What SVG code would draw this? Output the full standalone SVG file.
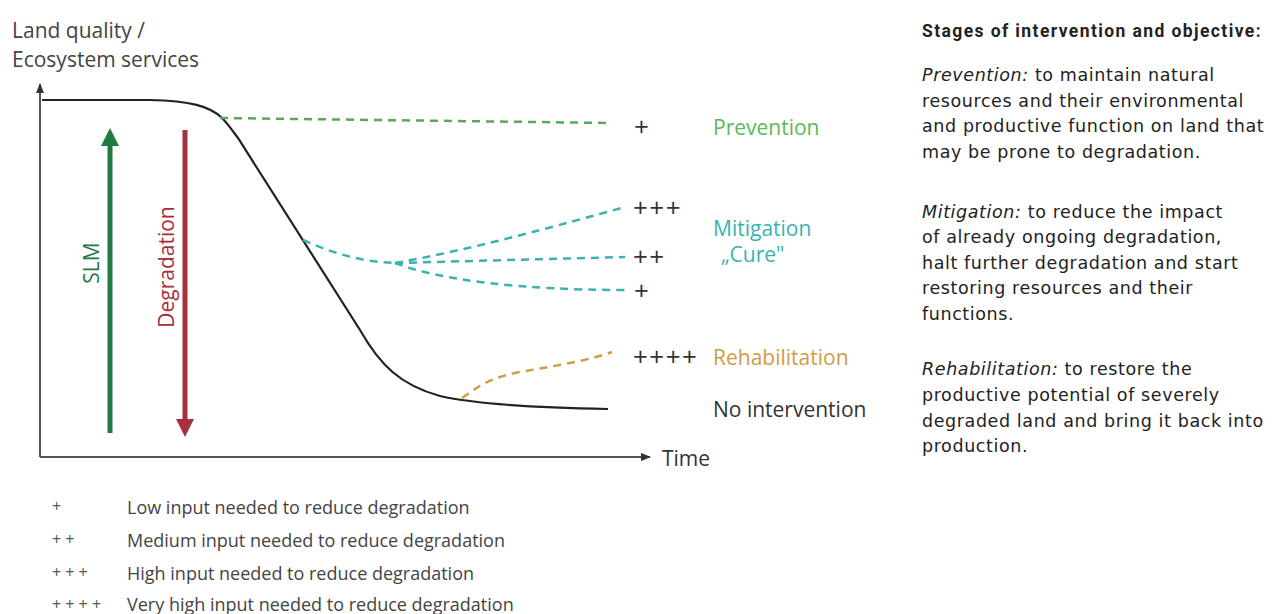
<svg xmlns="http://www.w3.org/2000/svg" width="1278" height="614" viewBox="0 0 1278 614">
<style>
.lbl{font-family:"Open Sans","Liberation Sans",sans-serif;font-size:21px;}
.leg{font-family:"Open Sans","Liberation Sans",sans-serif;font-size:18px;fill:#444;}
.legp{font-family:"Open Sans","Liberation Sans",sans-serif;font-size:16px;fill:#555;}
.side{font-family:"DejaVu Sans","Liberation Sans",sans-serif;font-size:17.5px;fill:#222;letter-spacing:0.6px;}
.head{font-family:"Roboto","Liberation Sans",sans-serif;font-size:17.5px;font-weight:bold;fill:#222;letter-spacing:1.4px;}
.dash{fill:none;stroke-width:2.5;stroke-dasharray:8 6;}
.plus{font-family:"Open Sans","Liberation Sans",sans-serif;font-size:26px;fill:#333;letter-spacing:1.5px;}
</style>
<defs>
<marker id="axh" markerWidth="10" markerHeight="8" refX="9" refY="4" orient="auto" markerUnits="userSpaceOnUse">
<path d="M0,0 L10,4 L0,8 Z" fill="#333"/>
</marker>
</defs>
<rect width="1278" height="614" fill="#fff"/>

<g id="axis-label">
<text class="lbl" x="12" y="38" fill="#444">Land quality /</text>
<text class="lbl" x="12" y="67" fill="#444">Ecosystem services</text>
</g>

<g id="axes">
<line x1="40" y1="457" x2="40" y2="84" stroke="#555" stroke-width="2" marker-end="url(#axh)"/>
<line x1="40" y1="457" x2="650" y2="457" stroke="#555" stroke-width="2" marker-end="url(#axh)"/>
<text class="lbl" x="662" y="466" fill="#333">Time</text>
</g>

<g id="slm-arrow">
<line x1="110" y1="433" x2="110" y2="142" stroke="#1f7a43" stroke-width="5"/>
<polygon points="110,128 101,146 119,146" fill="#1f7a43"/>
<text class="lbl" transform="translate(99,263) rotate(-90)" text-anchor="middle" font-size="20" fill="#1f7a43">SLM</text>
</g>

<g id="degradation-arrow">
<line x1="185" y1="130" x2="185" y2="420" stroke="#a6303c" stroke-width="5"/>
<polygon points="185,437 176,419 194,419" fill="#a6303c"/>
<text class="lbl" transform="translate(174,267) rotate(-90)" text-anchor="middle" font-size="20" fill="#a6303c">Degradation</text>
</g>

<g id="connectors">
<path id="no-intervention-curve" d="M42,100 L150,100 C190,101 210,106 222,118 C228,124 232,130 238,138 L360,330 C380,365 400,385 440,396 C480,405 550,408 608,409" fill="none" stroke="#222" stroke-width="2.2"/>
<path id="prevention-line" class="dash" stroke="#5aa85a" d="M220,118 L612,123"/>
<path id="mitigation-trunk" class="dash" stroke="#3ab3b0" d="M303,240 C330,252 360,262 395,263"/>
<path id="mitigation-high" class="dash" stroke="#3ab3b0" d="M395,263 C470,250 560,225 625,207"/>
<path id="mitigation-med" class="dash" stroke="#3ab3b0" d="M395,263 L625,257"/>
<path id="mitigation-low" class="dash" stroke="#3ab3b0" d="M395,263 C440,280 520,290 625,290"/>
<path id="rehabilitation-line" class="dash" stroke="#d49a45" d="M462,398 C480,385 490,378 520,372 C560,365 590,360 612,352"/>
</g>

<g id="prevention">
<text class="plus" x="634" y="136">+</text>
<text class="lbl" x="713" y="135" fill="#5cb85c">Prevention</text>
</g>

<g id="mitigation">
<text class="plus" x="633" y="217">+++</text>
<text class="plus" x="633" y="266">++</text>
<text class="plus" x="634" y="300">+</text>
<text class="lbl" x="713" y="236" font-size="20.5" fill="#3ab3b0">Mitigation</text>
<text class="lbl" x="721" y="262" font-size="20.5" fill="#3ab3b0">„Cure"</text>
</g>

<g id="rehabilitation">
<text class="plus" x="633" y="366">++++</text>
<text class="lbl" x="713" y="365" fill="#d49a45">Rehabilitation</text>
</g>

<g id="no-intervention">
<text class="lbl" x="713" y="417" fill="#333">No intervention</text>
</g>

<g id="legend">
<text class="legp" x="52" y="512">+</text>
<text class="leg" x="127" y="514">Low input needed to reduce degradation</text>
<text class="legp" x="52" y="545">+ +</text>
<text class="leg" x="127" y="547">Medium input needed to reduce degradation</text>
<text class="legp" x="52" y="578">+ + +</text>
<text class="leg" x="127" y="580">High input needed to reduce degradation</text>
<text class="legp" x="52" y="610">+ + + +</text>
<text class="leg" x="127" y="611">Very high input needed to reduce degradation</text>
</g>

<g id="stages-panel">
<text class="head" x="922" y="37">Stages of intervention and objective:</text>
<text class="side" x="922" y="81"><tspan font-style="italic">Prevention:</tspan> to maintain natural</text>
<text class="side" x="922" y="107">resources and their environmental</text>
<text class="side" x="922" y="132">and productive function on land that</text>
<text class="side" x="922" y="158">may be prone to degradation.</text>
<text class="side" x="922" y="218"><tspan font-style="italic">Mitigation:</tspan> to reduce the impact</text>
<text class="side" x="922" y="243">of already ongoing degradation,</text>
<text class="side" x="922" y="269">halt further degradation and start</text>
<text class="side" x="922" y="294">restoring resources and their</text>
<text class="side" x="922" y="320">functions.</text>
<text class="side" x="922" y="375"><tspan font-style="italic">Rehabilitation:</tspan> to restore the</text>
<text class="side" x="922" y="401">productive potential of severely</text>
<text class="side" x="922" y="427">degraded land and bring it back into</text>
<text class="side" x="922" y="452">production.</text>
</g>
</svg>
